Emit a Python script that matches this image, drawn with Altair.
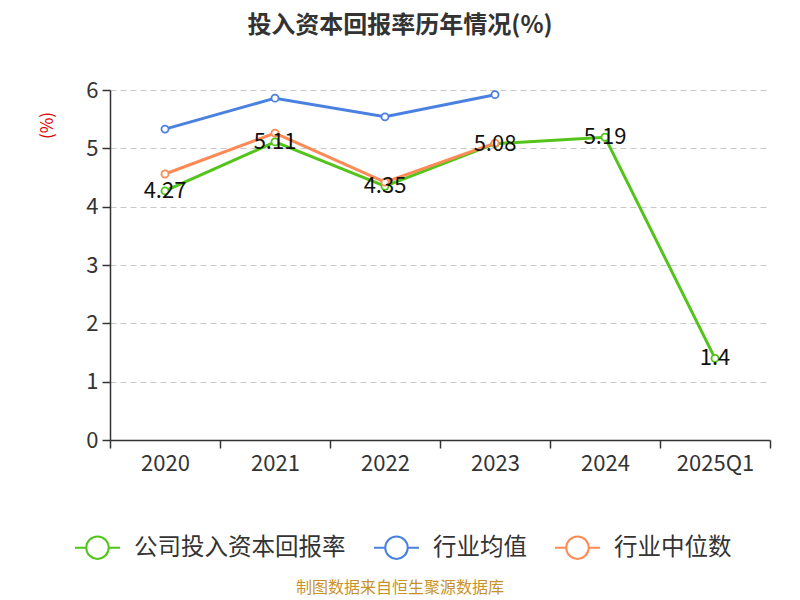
import altair as alt
import pandas as pd

years = ["2020", "2021", "2022", "2023", "2024", "2025Q1"]
series_names = ["公司投入资本回报率", "行业均值", "行业中位数"]
company = [4.27, 5.11, 4.35, 5.08, 5.19, 1.4]
industry_avg = [5.33, 5.86, 5.54, 5.92, None, None]
industry_median = [4.56, 5.26, 4.42, 5.09, None, None]
colors = ["#52C41A", "#4A80E0", "#FF8A55"]

FONT = "Noto Sans CJK SC"

rows = []
for name, vals in zip(series_names, [company, industry_avg, industry_median]):
    for y, v in zip(years, vals):
        if v is not None:
            rows.append({"year": y, "series": name, "value": v})
df = pd.DataFrame(rows)
df_company = df[df["series"] == series_names[0]]

legend_symbol = ("M-1,0L-0.5,0M0.5,0L1,0M-0.5,0A0.5,0.5,0,1,0,0.5,0"
                 "A0.5,0.5,0,1,0,-0.5,0")

x_scale = alt.Scale(type="band", paddingInner=0, paddingOuter=0)

x_enc = alt.X("year:N", sort=years, title=None, scale=x_scale,
              axis=alt.Axis(labelAngle=0, labelFontSize=22, labelColor="#333",
                            labelPadding=5, domainColor="#333", domainWidth=1.5,
                            tickColor="#333", tickWidth=1.5, tickSize=8,
                            tickBand="extent", grid=False))
y_enc = alt.Y("value:Q", title="(%)",
              scale=alt.Scale(domain=[0, 6], nice=False),
              axis=alt.Axis(values=[0, 1, 2, 3, 4, 5, 6], format="d",
                            labelFontSize=22,
                            labelColor="#333", labelPadding=4,
                            domainColor="#333", domainWidth=1.5,
                            tickColor="#333", tickWidth=1.5, tickSize=8,
                            gridColor="#c8c8c8", gridDash=[6, 4], gridWidth=1.2,
                            titleColor="#e00000", titleFontSize=17,
                            titleFontWeight="normal", titleAngle=-90,
                            titleX=-63, titleY=35, titleAlign="center",
                            titleBaseline="middle"))
color_enc = alt.Color("series:N", sort=series_names,
                      scale=alt.Scale(domain=series_names, range=colors),
                      legend=alt.Legend(title=None, orient="none",
                                        direction="horizontal",
                                        legendX=-36, legendY=434,
                                        symbolType=legend_symbol,
                                        symbolSize=2025, symbolStrokeWidth=2,
                                        symbolFillColor="white",
                                        labelFontSize=23.5, labelColor="#333",
                                        labelLimit=400,
                                        labelOffset=13, columnPadding=24,
                                        padding=0))

lines = alt.Chart(df).mark_line(strokeWidth=3).encode(
    x=x_enc, y=y_enc, color=color_enc,
)
points = alt.Chart(df).mark_point(filled=True, fill="white", size=50,
                                  strokeWidth=1.8, opacity=1).encode(
    x=alt.X("year:N", sort=years, scale=x_scale), y="value:Q",
    stroke=alt.Stroke("series:N", scale=alt.Scale(domain=series_names, range=colors),
                      legend=None),
)
labels = alt.Chart(df_company).mark_text(fontSize=22, color="#111",
                                         baseline="middle", font=FONT).encode(
    x=alt.X("year:N", sort=years, scale=x_scale), y="value:Q",
    text=alt.Text("value:Q"),
)
footer = alt.Chart(pd.DataFrame({"t": ["制图数据来自恒生聚源数据库"]})).mark_text(
    fontSize=16, color="#C8922A", font=FONT, baseline="middle"
).encode(x=alt.value(290), y=alt.value(498), text="t:N")

chart = alt.layer(lines, points, labels, footer).properties(
    width=660, height=350,
    padding={"left": 102, "top": 82, "right": 22, "bottom": 158},
    autosize=alt.AutoSizeParams(type="none"),
    title=alt.TitleParams("投入资本回报率历年情况(%)", fontSize=24,
                          fontWeight="bold", color="#333", font=FONT,
                          anchor="middle", dx=-40, offset=41),
).configure(font=FONT).configure_view(stroke=None)

chart.save("out.html", embed_options={"renderer": "svg", "actions": False})
